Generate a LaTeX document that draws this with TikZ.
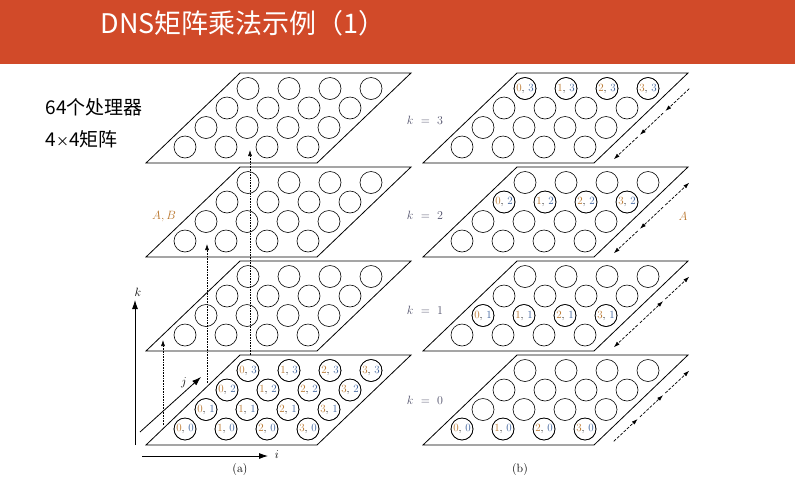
\documentclass[tikz,border=0pt]{standalone}
\usepackage{fontspec}
\newfontfamily\cjk{Noto Sans CJK SC}
\definecolor{TitleRed}{HTML}{D14A29}
\definecolor{NumO}{HTML}{B8742A}
\definecolor{NumB}{HTML}{3A5F9A}
\definecolor{LabK}{HTML}{50506A}
\usetikzlibrary{arrows.meta, calc, positioning}
\tikzset{
  pe/.style={circle, draw, line width=0.6pt, minimum size=22pt, inner sep=0pt, font=\fontsize{11}{11}\selectfont},
  slab/.style={draw, line width=0.8pt},
  flow/.style={dash pattern=on 3pt off 1.5pt, line width=0.7pt, -{Latex[length=6pt,width=4pt]}},
  axis/.style={line width=0.8pt, -{Latex[length=9pt,width=6pt]}}
}
% one processor plane: x of bottom left corner, y of bottom edge, name prefix
\newcommand{\plane}[3]{%
  \draw[slab] (#1,#2) -- ++(171,0) -- ++(94,-90) -- ++(-171,0) -- cycle;
  \foreach \j in {0,...,3}
    \foreach \i in {0,...,3}
      \node[pe] (#3-\i-\j) at ({#1+39+41*\i+21*\j}, {#2-16-19.5*\j}) {};
}
\newcommand{\lab}[2]{{\color{NumO}#1}, {\color{NumB}#2}}
\begin{document}
\begin{tikzpicture}[x=1pt, y=-1pt]
\useasboundingbox (0,0) rectangle (795,483);
\fill[TitleRed] (0,0) rectangle (795,64);
\node[anchor=west, text=white, font=\cjk\fontsize{27}{27}\selectfont] (title) at (97,23) {DNS矩阵乘法示例（1）};
\node[anchor=west, font=\cjk\fontsize{19}{19}\selectfont] (procs) at (42,107) {64个处理器};
\node[anchor=west, font=\cjk\fontsize{19}{19}\selectfont] (size) at (42,139) {4{\fontsize{13}{13}\selectfont×}4矩阵};

% (a) left stack, then (b) right stack
\foreach \p in {0,...,3} {
  \plane{146}{445-94*\p}{a\p}
  \plane{423}{445-94*\p}{b\p}
}
\foreach \i in {0,...,3}
  \foreach \j in {0,...,3}
    \node[pe] at (a0-\i-\j) {\lab{\i}{\j}};
\foreach \p in {0,...,3}
  \foreach \i in {0,...,3}
    \node[pe] at (b\p-\i-\p) {\lab{\i}{\p}};

% vertical copies in (a)
\coordinate (s1) at (163,425); \coordinate (e1) at (163,340);
\coordinate (s2) at (207,383); \coordinate (e2) at (207,244);
\coordinate (s3) at (250,355); \coordinate (e3) at (250,150);
\foreach \n in {1,2,3}
  \draw[densely dotted, line width=0.6pt, -{Latex[length=6pt,width=4pt]}] (s\n) -- (e\n);

% axes
\coordinate (o1) at (135,445); \coordinate (ktip) at (135,300);
\coordinate (o2) at (142,456); \coordinate (itip) at (268,456);
\coordinate (o3) at (140,432); \coordinate (jtip) at (201,377);
\draw[axis] (o1) -- (ktip);
\draw[axis] (o2) -- (itip);
\draw[axis] (o3) -- (jtip);
\node[font=\large] (klab) at (138,292) {$k$};
\node[font=\large] (ilab) at (277,455) {$i$};
\node[font=\large] (jlab) at (184,383) {$j$};
\node[font=\large] (capa) at (240,469) {(a)};
\node[font=\large] (capb) at (520,469) {(b)};
\node[text=NumO, font=\large] (ablab) at (164,217) {$A,B$};
\node[text=NumO, font=\large] (alab) at (683,216) {$A$};

\foreach \p/\kk in {3/120, 2/215, 1/310, 0/400}
  \node[text=LabK, font=\large] (k\p) at (425,\kk) {$k\ =\ \p$};

% broadcast arrows in (b), as start/end fractions along the right side
\foreach \p/\fa/\fb in {3/0.32/0.01, 3/0.65/0.35, 3/0.99/0.68,
                        2/0.32/0.01, 2/0.65/0.35, 2/0.68/0.99,
                        1/0.32/0.01, 1/0.35/0.65, 1/0.68/0.99,
                        0/0.01/0.32, 0/0.35/0.65, 0/0.68/0.99} {
  \coordinate (lo) at (613,{160+94*(3-\p)});
  \coordinate (hi) at (690,{88+94*(3-\p)});
  \draw[flow] ($(lo)!\fa!(hi)$) -- ($(lo)!\fb!(hi)$);
}
\end{tikzpicture}
\end{document}
